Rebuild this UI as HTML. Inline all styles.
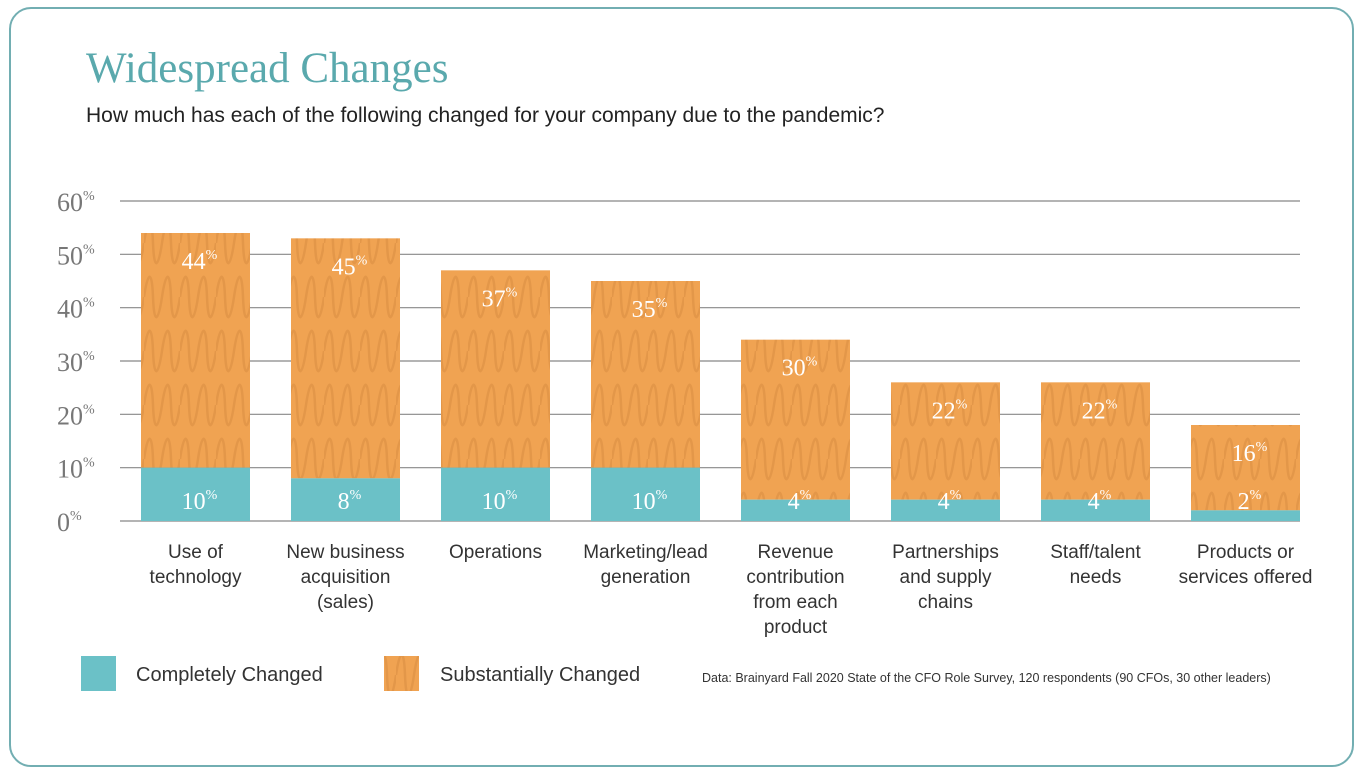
<!DOCTYPE html>
<html><head><meta charset="utf-8"><style>
body{margin:0;background:#fff;width:1363px;height:777px;overflow:hidden;font-family:"Liberation Sans",sans-serif}
#frame{position:absolute;left:9px;top:7px;width:1341px;height:756px;border:2px solid #72aeb2;border-radius:22px}
h1{position:absolute;left:86px;top:44px;margin:0;font:400 43px "Liberation Serif",serif;color:#5aa9ad}
#sub{position:absolute;left:86px;top:104px;font-size:21px;color:#222}
#src{position:absolute;left:702px;top:671px;font-size:12.5px;color:#333}
</style></head><body>
<div id="frame"></div>
<h1>Widespread Changes</h1>
<div id="sub">How much has each of the following changed for your company due to the pandemic?</div>
<div id="src">Data: Brainyard Fall 2020 State of the CFO Role Survey, 120 respondents (90 CFOs, 30 other leaders)</div>
<svg id="chart" width="1363" height="777" style="position:absolute;left:0;top:0">
<defs><pattern id="wave" width="36" height="54" patternUnits="userSpaceOnUse">
<rect width="36" height="54" fill="#f0a352"/>
<path d="M0 27 C4 0,8 0,9 27 C10 54,14 54,18 27 C22 0,26 0,27 27 C28 54,32 54,36 27" fill="none" stroke="#d98c42" stroke-width="2.5" opacity="0.55"/>
</pattern></defs>
</svg>
<script>
const categories=[["Use of","technology"],["New business","acquisition","(sales)"],["Operations"],["Marketing/lead","generation"],["Revenue","contribution","from each","product"],["Partnerships","and supply","chains"],["Staff/talent","needs"],["Products or","services offered"]];
const completely=[10,8,10,10,4,4,4,2];
const substantially=[44,45,37,35,30,22,22,16];
const yTicks=[0,10,20,30,40,50,60];
const svg=document.getElementById('chart');
const NS='http://www.w3.org/2000/svg';
const y0=521,pxPer=320/60,x0=141,step=150,bw=109;
const Y=v=>y0-v*pxPer, X=i=>x0+i*step;
function mk(t,a,p){const e=document.createElementNS(NS,t);for(const k in a)e.setAttribute(k,a[k]);(p||svg).appendChild(e);return e;}
yTicks.forEach(v=>{
 const l=mk('line',{x1:120,x2:1300,y1:Y(v),y2:Y(v),stroke:'#888','stroke-width':1.2});
 
 
 const t=mk('text',{x:57,y:Y(v)+10,'font-family':'Liberation Serif, serif','font-size':26,fill:'#777'});
 t.textContent=v;const s=mk('tspan',{'font-size':14,dy:-11},t);s.textContent='%';
 
 
});
function label(x,y,v){const t=mk('text',{x:x,y:y,'text-anchor':'middle','font-family':'Liberation Serif, serif','font-size':24,fill:'#fff'});
 t.textContent=v;const s=mk('tspan',{'font-size':14,dy:-10},t);s.textContent='%';
 
 }
categories.forEach((c,i)=>{
 const a=completely[i],b=substantially[i],x=X(i);
 const r2=mk('rect',{x:x,y:Y(a+b),width:bw,height:Y(a)-Y(a+b),fill:'url(#wave)'});
 
 
 const r1=mk('rect',{x:x,y:Y(a),width:bw,height:y0-Y(a),fill:'#6bc1c7'});
 
 
 label(x+bw/2+4,Y(a+b)+36,b);
 label(x+bw/2+4,Y(0)-12,a);
 c.forEach((ln,j)=>{const t=mk('text',{x:x+bw/2,y:558+j*25,'text-anchor':'middle','font-size':19,fill:'#333'});t.textContent=ln;
  
  });
});
const l1=mk('rect',{x:81,y:656,width:35,height:35,fill:'#6bc1c7'});


const lt1=mk('text',{x:136,y:681,'font-size':20,fill:'#333'});lt1.textContent='Completely Changed';


const l2=mk('rect',{x:384,y:656,width:35,height:35,fill:'url(#wave)'});


const lt2=mk('text',{x:440,y:681,'font-size':20,fill:'#333'});lt2.textContent='Substantially Changed';


</script>
</body></html>
